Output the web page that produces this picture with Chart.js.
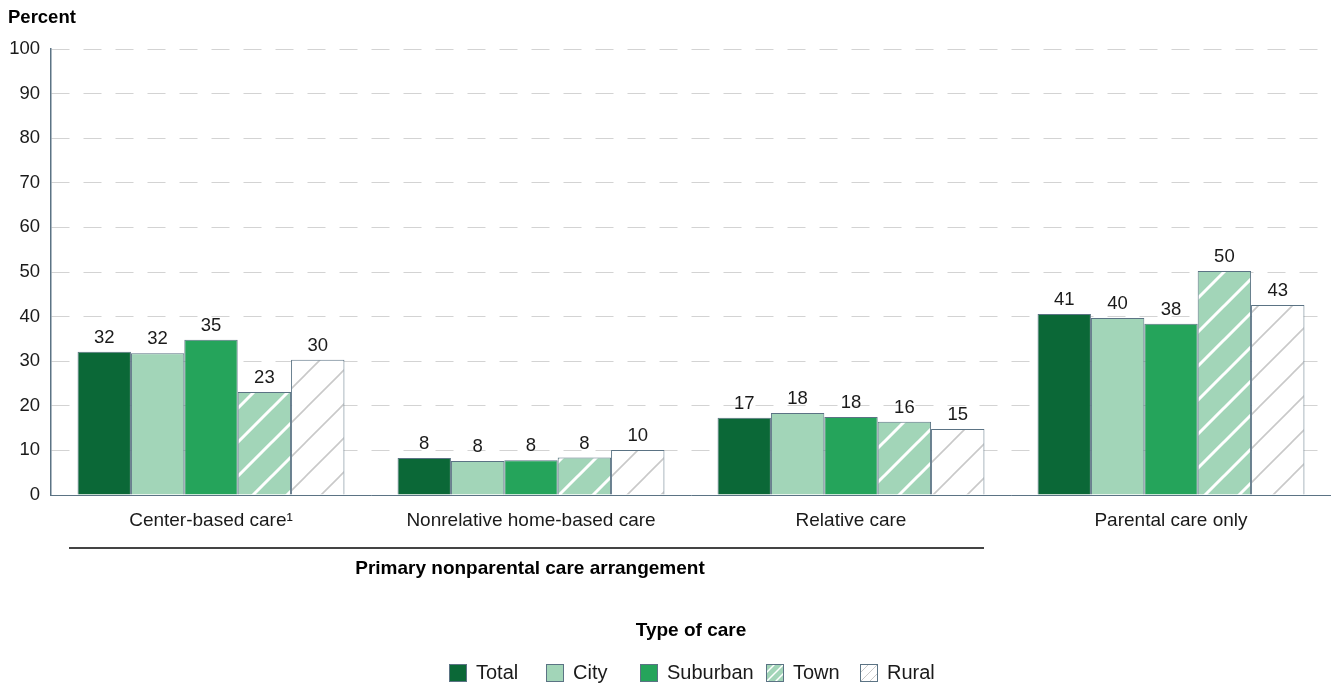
<!DOCTYPE html>
<html>
<head>
<meta charset="utf-8">
<script src="https://cdn.jsdelivr.net/npm/chart.js@4.4.1/dist/chart.umd.min.js"></script>
<style>
  body { margin: 0; background: #fff; }
  canvas { display: block; }
</style>
</head>
<body>
<canvas id="careChart" width="1331" height="683"></canvas>
<script>
const categories = ["Center-based care\u00B9", "Nonrelative home-based care", "Relative care", "Parental care only"];
const seriesNames = ["Total", "City", "Suburban", "Town", "Rural"];
const totalValues = [32.1, 8.3, 17.3, 40.6];
const cityValues = [31.8, 7.6, 18.4, 39.7];
const suburbanValues = [34.8, 7.8, 17.5, 38.4];
const townValues = [23.1, 8.4, 16.4, 50.2];
const ruralValues = [30.3, 10.1, 14.8, 42.6];
const yTicks = [0, 10, 20, 30, 40, 50, 60, 70, 80, 90, 100];

const FONT = "'Liberation Sans', Arial, sans-serif";
const EDGE = "#5b7384";

function hatch(bg, lineColor, lineWidth, size) {
  const c = document.createElement("canvas");
  c.width = size; c.height = size;
  const g = c.getContext("2d");
  g.fillStyle = bg;
  g.fillRect(0, 0, size, size);
  g.strokeStyle = lineColor;
  g.lineWidth = lineWidth;
  g.beginPath();
  g.moveTo(-2, size + 2); g.lineTo(size + 2, -2);
  g.moveTo(-size / 2, size / 2); g.lineTo(size / 2, -size / 2);
  g.moveTo(size / 2, size * 1.5); g.lineTo(size * 1.5, size / 2);
  g.stroke();
  return g.createPattern(c, "repeat");
}

const townFill = hatch("#a2d5b8", "#ffffff", 3, 34);
const ruralFill = hatch("#ffffff", "#c9c9c9", 1.6, 34);
const fills = ["#0b6837", "#a2d5b8", "#25a45b", townFill, ruralFill];
// smaller hatch for the legend swatches
const legendFills = ["#0b6837", "#a2d5b8", "#25a45b",
  hatch("#a2d5b8", "#ffffff", 1.5, 9), hatch("#ffffff", "#c9c9c9", 1, 9)];
const values = [totalValues, cityValues, suburbanValues, townValues, ruralValues];

const datasets = seriesNames.map((name, i) => ({
  label: name,
  data: values[i],
  backgroundColor: fills[i],
  borderColor: EDGE,
  borderWidth: 1,
  borderSkipped: "bottom",
  categoryPercentage: 0.834,
  barPercentage: 1.0
}));

// value labels above bars + extra text, line and legend
const extras = {
  id: "extras",
  afterDatasetsDraw(chart) {
    const ctx = chart.ctx;
    ctx.save();
    ctx.font = "18.5px " + FONT;
    ctx.fillStyle = "#1a1a1a";
    ctx.textAlign = "center";
    ctx.textBaseline = "alphabetic";
    chart.data.datasets.forEach((ds, i) => {
      chart.getDatasetMeta(i).data.forEach((bar, j) => {
        ctx.fillText(String(Math.round(ds.data[j])), bar.x, bar.y - 9);
      });
    });
    ctx.restore();
  },
  afterDraw(chart) {
    const ctx = chart.ctx;
    ctx.save();
    ctx.fillStyle = "#000";
    ctx.font = "bold 18.5px " + FONT;
    ctx.textAlign = "left";
    ctx.textBaseline = "middle";
    ctx.fillText("Percent", 8, 18);

    ctx.strokeStyle = "#444";
    ctx.lineWidth = 2;
    ctx.beginPath();
    ctx.moveTo(69, 548);
    ctx.lineTo(984, 548);
    ctx.stroke();

    ctx.font = "bold 19px " + FONT;
    ctx.textAlign = "center";
    ctx.fillText("Primary nonparental care arrangement", 530, 569);
    ctx.fillText("Type of care", 691, 631);

    const legendX = [449, 546, 640, 766, 860];
    ctx.font = "20px " + FONT;
    ctx.textAlign = "left";
    seriesNames.forEach((name, i) => {
      ctx.save();
      ctx.translate(legendX[i], 664);
      ctx.fillStyle = legendFills[i];
      ctx.fillRect(0, 0, 18, 18);
      ctx.strokeStyle = EDGE;
      ctx.lineWidth = 1;
      ctx.strokeRect(0.5, 0.5, 17, 17);
      ctx.restore();
      ctx.fillStyle = "#1a1a1a";
      ctx.fillText(name, legendX[i] + 27, 673);
    });
    ctx.restore();
  }
};

new Chart(document.getElementById("careChart"), {
  type: "bar",
  data: { labels: categories, datasets: datasets },
  options: {
    responsive: false,
    animation: false,
    events: [],
    layout: { padding: { top: 49, right: 0, left: 0, bottom: 0 } },
    plugins: { legend: { display: false }, tooltip: { enabled: false } },
    scales: {
      x: {
        grid: { display: false },
        border: { color: EDGE, width: 1 },
        ticks: { color: "#1a1a1a", font: { family: FONT, size: 19 }, padding: 6, maxRotation: 0 },
        afterFit(scale) { scale.height = 188; }
      },
      y: {
        min: 0,
        max: 100,
        afterBuildTicks(scale) { scale.ticks = yTicks.map(v => ({ value: v })); },
        grid: { color: "#d3d3d3", lineWidth: 1, drawTicks: false },
        border: { color: EDGE, width: 1.5, dash: [18, 14] },
        ticks: { color: "#1a1a1a", font: { family: FONT, size: 18.5 }, padding: 11 },
        afterFit(scale) { scale.width = 51; }
      }
    }
  },
  plugins: [extras]
});
</script>
</body>
</html>
